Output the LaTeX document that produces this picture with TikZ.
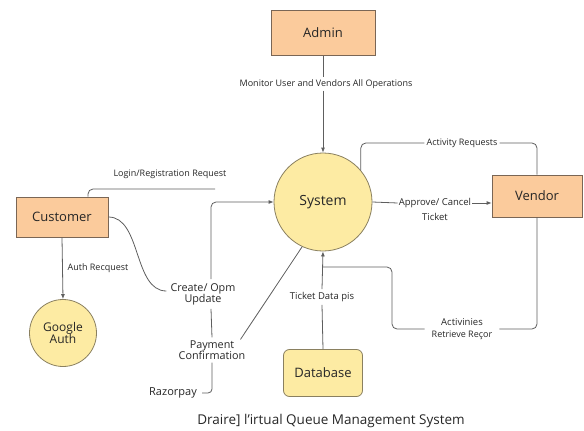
\documentclass[tikz,border=0pt]{standalone}
\usepackage{fontspec}
\setmainfont{Open Sans}
\usetikzlibrary{arrows.meta}
\definecolor{boxfill}{HTML}{FBCB9C}
\definecolor{boxline}{HTML}{7A6655}
\definecolor{procfill}{HTML}{FDEBA3}
\definecolor{procline}{HTML}{8A8060}
\definecolor{flowline}{HTML}{5E5E5E}
\definecolor{ink}{HTML}{262626}
\newcommand{\fs}[1]{\fontsize{#1pt}{1.2\dimexpr#1pt\relax}\selectfont}
\tikzset{
  entity/.style={draw=boxline, fill=boxfill, line width=0.8pt, text=ink, minimum height=#1},
  entity/.default=42pt,
  proc/.style={circle, draw=procline, fill=procfill, line width=0.8pt, text=ink, align=center},
  store/.style={draw=procline, fill=procfill, line width=0.8pt, rounded corners=6pt, text=ink},
  flow/.style={draw=flowline, line width=0.8pt},
  arr/.style={flow, -{Latex[length=5pt,width=4pt]}},
  lbl/.style={text=ink, inner sep=2pt, align=center},
}
\begin{document}
\begin{tikzpicture}[x=1pt, y=-1pt]
  \useasboundingbox (0,0) rectangle (584,431);

  % entities and processes
  \node[entity=45pt, minimum width=104pt, font=\fs{13}] (admin) at (323,33) {Admin};
  \node[proc, minimum size=98pt, font=\fs{14}] (system) at (323,202) {System};
  \node[entity=42pt, minimum width=90pt, font=\fs{13}] (vendor) at (537,196) {Vendor};
  \node[entity=40pt, minimum width=92pt, font=\fs{13}] (customer) at (62,217) {Customer};
  \node[proc, minimum size=67pt, font=\fs{12}, inner sep=0pt] (gauth) at (63,333) {Google\\[-2pt]Auth};
  \node[store, minimum width=79pt, minimum height=47pt, font=\fs{13}] (db) at (323,373) {Database};

  % flow labels
  \node[lbl, font=\fs{9}] (monlbl) at (326,84) {Monitor User and Vendors All Operations};
  \node[lbl, font=\fs{9}] (actlbl) at (462,143) {Activity Requests};
  \node[lbl, font=\fs{9.5}, inner sep=1pt] (applbl) at (435,203) {Approve/ Cancel};
  \node[lbl, font=\fs{9.5}] (ticket) at (435,217) {Ticket};
  \node[lbl, font=\fs{9.5}, inner xsep=7pt, inner ysep=0pt] (actv) at (462,329) {Activinies\\[1pt]{\fs{9}Retrieve Reçor}};
  \node[lbl, font=\fs{9.5}, inner sep=3pt] (tdlbl) at (322,297) {Ticket Data pis};
  \node[lbl, font=\fs{9}] (loginlbl) at (170,174) {Login/Registration Request};
  \node[lbl, font=\fs{9}] (authlbl) at (98,268) {Auth Recquest};
  \node[lbl, font=\fs{10.8}, inner sep=4pt] (cu) at (203,294) {Create/ Opm\\[-2pt]Update};
  \node[lbl, font=\fs{10.8}, inner sep=3pt] (pay) at (212,350) {Payment\\[-2pt]Confirmation};
  \node[lbl, font=\fs{11}, inner sep=5pt] (razor) at (173,393) {Razorpay};

  % helper points
  \coordinate (loginend) at (215,189);
  \coordinate (rc) at (392,267);
  \coordinate (tj) at (323,267);

  % admin -> system
  \draw[flow] (admin.south) -- (admin.south |- monlbl.north);
  \draw[arr] (admin.south |- monlbl.south) -- (system.north);

  % system <-> vendor
  \draw[flow, rounded corners=5pt] (system.40) |- (actlbl.west);
  \draw[flow, rounded corners=5pt] (actlbl.east) -| (vendor.north);
  \draw[flow] (system.east) -- (applbl.west);
  \draw[arr] (applbl.east) -- (applbl.east -| vendor.west);
  \draw[flow, rounded corners=5pt] (vendor.south) |- (actv.east);
  \draw[flow, rounded corners=5pt] (actv.west) -| (rc) -- (tj);

  % database -> system
  \draw[flow] (db.north) -- (tdlbl.south);
  \draw[arr] (tdlbl.north) -- (system.south);

  % customer flows
  \draw[arr] (customer.south) -- (gauth.north);
  \draw[flow, rounded corners=5pt] ([xshift=26pt]customer.north) |- (loginend);
  \draw[flow] (customer.east) to[out=0, in=180, looseness=0.9] ([yshift=3pt]cu.west);
  \draw[arr, rounded corners=5pt] ([xshift=8pt]cu.north) |- (system.west);
  \draw[flow] ([xshift=8pt]cu.south) -- (pay.north);
  \draw[flow, rounded corners=4pt] (pay.south) |- (razor.east);
  \draw[flow] (system.245) -- ([xshift=-8pt,yshift=-2pt]pay.north east);

  % caption
  \node[lbl, font=\fs{13.5}] (title) at (331,421) {Draire] l'irtual Queue Management System};
\end{tikzpicture}
\end{document}
